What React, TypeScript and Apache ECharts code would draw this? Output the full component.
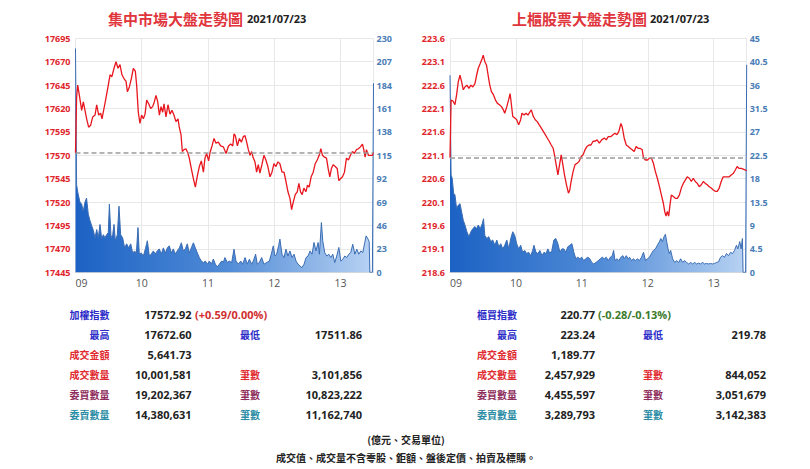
import React, { useEffect, useRef } from "react";
import * as echarts from "echarts";

// ---------- axis / tick data ----------
const HOUR_LABELS = ["09", "10", "11", "12", "13"];
const TWSE_PRICE_MIN = 17445;
const TWSE_PRICE_STEP = 25;
const TWSE_VOL_MAX = 230;
const TPEX_PRICE_MIN = 218.6;
const TPEX_PRICE_STEP = 0.5;
const TWSE_PREV_CLOSE = 17572.33;
const TPEX_PREV_CLOSE = 221.05;

// ---------- TWSE (集中市場) price: minutes since 09:00, index ----------
const TWSE_PRICE_T = [0, 1, 2, 3.5, 5.6, 7.1, 8.6, 10.1, 11.9, 13.7, 15.6, 17.7, 19.2, 21, 22.8, 24, 25.8, 27.6, 29.7, 31.3, 33, 34.9, 36.7, 38.5, 40.3, 42.1, 43.9, 45.8, 47, 48.8, 50.6, 52.4, 54.2, 55.4, 56.9, 58.4, 59.9, 61.5, 63, 64.5, 66.3, 68.1, 69.9, 71.4, 72.9, 74.5, 76, 77.5, 79, 80.2, 82, 83.8, 85.6, 87.4, 89.2, 91, 92.9, 94, 95.6, 96.8, 98.3, 100.1, 101.9, 103.1, 104.9, 106.8, 108.6, 110.4, 112.2, 114, 115.9, 117.3, 118.8, 120.6, 121.9, 123.7, 125.5, 127.3, 129.4, 131.5, 134, 136.4, 138.6, 140.6, 142.5, 143.6, 144.8, 146.7, 148.5, 150.3, 152.1, 153.6, 155.1, 156.6, 158.1, 159.6, 161.1, 162.6, 164.1, 165.6, 167.1, 168.9, 170.7, 172.5, 174.3, 176.2, 178, 179.8, 181.6, 183.4, 185.2, 187.1, 188.9, 190.7, 192.5, 194.3, 195.8, 197.3, 199.1, 200.9, 202.4, 203.9, 205.4, 206.9, 208.7, 210.2, 211.7, 213.5, 215.4, 217.2, 219, 220.8, 222.3, 223.8, 225.6, 227.4, 228.9, 230.4, 231.9, 233.4, 235.3, 237.1, 238.6, 240.1, 241.9, 243.7, 245.5, 247.3, 249.1, 250.9, 252.7, 254.5, 256.3, 258.1, 260, 261.2, 262.4, 263.6, 265.4, 267.2, 269, 270];
const TWSE_PRICE_V = [17572.33, 17632, 17645, 17634, 17618, 17627, 17618, 17609, 17600, 17602, 17611, 17613, 17624, 17613, 17615, 17609, 17620, 17631, 17645, 17656, 17654, 17663, 17670, 17663, 17667, 17656, 17652, 17649, 17638, 17643, 17652, 17663, 17660, 17645, 17616, 17604, 17613, 17609, 17614, 17629, 17625, 17620, 17622, 17627, 17634, 17627, 17613, 17622, 17616, 17625, 17611, 17624, 17614, 17618, 17613, 17606, 17609, 17600, 17592, 17574, 17576, 17577, 17572, 17567, 17556, 17545, 17536, 17548, 17558, 17564, 17552, 17567, 17572, 17564, 17573, 17580, 17588, 17583, 17584, 17580, 17579, 17572, 17580, 17582, 17580, 17593, 17591, 17580, 17588, 17584, 17590, 17591, 17584, 17576, 17570, 17574, 17567, 17563, 17552, 17560, 17551, 17560, 17570, 17565, 17558, 17547, 17552, 17561, 17558, 17563, 17561, 17552, 17552, 17542, 17531, 17524, 17512, 17520, 17528, 17531, 17540, 17531, 17528, 17535, 17531, 17538, 17536, 17547, 17552, 17561, 17565, 17570, 17577, 17570, 17568, 17567, 17556, 17547, 17556, 17560, 17558, 17556, 17543, 17545, 17547, 17552, 17567, 17565, 17570, 17574, 17572, 17576, 17577, 17579, 17582, 17576, 17568, 17576, 17570, 17570, 17570, 17572.92];

// ---------- TWSE volume per minute (億元) ----------
const TWSE_VOL_T = [0, 1, 2, 4, 5.6, 7, 8.6, 10, 11.6, 13.1, 14.6, 16.2, 17.7, 19.2, 20.7, 22.2, 23.7, 25.2, 26.7, 28.2, 29.7, 30.7, 32.2, 33.7, 34.9, 36.1, 37.9, 39.4, 40.9, 42.7, 44.5, 46.3, 48.2, 50, 51.8, 53.6, 55.1, 56.6, 57.8, 59.6, 61.5, 63.3, 65.1, 66.9, 68.7, 70.5, 72.3, 74.1, 75.9, 77.8, 79.6, 81.4, 83.2, 85, 86.8, 88.6, 90.4, 92.2, 94.1, 95.9, 97.7, 99.5, 101.3, 103.1, 104.9, 106.8, 108.6, 110.4, 112.2, 114, 115.9, 117.7, 119.5, 121.3, 123.1, 124.9, 126.7, 128.5, 130.3, 132.4, 134, 135.4, 137.6, 139.4, 141.5, 143.6, 145.4, 147.5, 149.7, 151.5, 153.6, 155.7, 157.5, 159.6, 161.1, 163.2, 164.7, 166.5, 168.7, 170.7, 173.2, 175.6, 177.4, 179.2, 180.7, 182.2, 184, 185.2, 187.1, 188.9, 190.7, 192.5, 194.3, 196.2, 198, 199.8, 201.6, 203.4, 205.2, 207.1, 208.9, 210.7, 212.5, 214.3, 216.1, 217.9, 219.8, 221, 222.8, 224, 225.8, 227.7, 229.5, 231.3, 233.1, 234.9, 236.7, 238.6, 240.4, 242.2, 244, 245.8, 247.6, 249.4, 251.2, 253.1, 254.9, 256.7, 258.5, 260.3, 262.1, 263.3, 265.1, 266.1, 266.7, 269, 270];
const TWSE_VOL_V = [220, 86, 79, 69, 67, 60, 69, 73, 57, 51, 46, 41, 34, 42, 34, 47, 33, 37, 34, 37, 39, 67, 34, 37, 47, 31, 37, 65, 37, 34, 24, 28, 24, 28, 19, 21, 18, 44, 18, 19, 16, 23, 31, 16, 18, 21, 18, 21, 23, 18, 24, 19, 24, 26, 19, 23, 18, 21, 24, 29, 21, 23, 28, 19, 24, 29, 24, 19, 14.5, 11, 9.6, 11, 8, 11, 8, 13, 8, 5.3, 8, 11, 10, 14.5, 9.6, 11, 9.6, 22.7, 11, 8, 11, 8, 14.5, 8, 12.8, 8, 11, 17.8, 8, 9.6, 14.5, 8, 9.6, 11, 17.8, 26, 16, 17.8, 26, 32.6, 17.8, 14.5, 22.7, 16, 21, 14.5, 17.8, 11, 8, 6.2, 4.6, 8, 14.5, 16, 21, 17.8, 29.3, 21, 29.3, 17.8, 48.9, 31, 19.4, 16, 17.8, 14.5, 17.8, 9.6, 16, 24.4, 11, 12.8, 16, 14.5, 17.8, 19.4, 27.6, 17.8, 22.7, 17.8, 21, 19.4, 29.3, 35.8, 32.6, 30, 0, 0, 185.8];

// ---------- TPEx (上櫃) price ----------
const TPEX_PRICE_T = [0, 1, 2.7, 4.5, 6, 7.5, 9.1, 10.6, 12.1, 13.6, 15.4, 17.2, 19, 20.8, 22.7, 24.2, 25.7, 27.5, 29.3, 30.2, 31.7, 33.2, 34.7, 36.2, 37.7, 39.6, 41.4, 43.2, 45, 46.8, 48.6, 49.8, 51.7, 53.5, 54.7, 55.9, 57.1, 58.9, 60.7, 62.5, 64.3, 65.5, 67.4, 69.2, 71, 72.8, 74, 75.8, 77.6, 79.4, 81.2, 83.1, 84.9, 86.7, 88.5, 90.3, 92.1, 93.9, 95.1, 96.6, 98.2, 99.4, 101.2, 102.7, 104.2, 106, 107.8, 109, 110.2, 112, 113.8, 115.7, 117.5, 119.3, 121.1, 122.9, 124.7, 126.5, 128.3, 130.2, 132, 133.8, 135.9, 138, 140.4, 142.2, 144, 146.5, 148.3, 150.1, 151.9, 153.7, 155.5, 156.7, 158.5, 160.4, 162.2, 164, 165.8, 167.6, 169.4, 171.2, 173, 174.9, 176.1, 177.9, 179.7, 181.5, 183.3, 185.1, 186.9, 188.7, 190.6, 192.4, 194.2, 195.4, 196.6, 197.8, 199, 200.2, 201.4, 203.3, 205.1, 206.9, 208.7, 210.5, 212.3, 214.1, 215.9, 217.8, 219.6, 221.4, 223.2, 225, 226.8, 228.7, 230.5, 232.3, 234.1, 235.9, 237.7, 239.6, 241.4, 243.2, 245, 246.8, 248.6, 250.4, 252.3, 254.1, 255.9, 257.7, 259.5, 261.3, 263.1, 265, 267.4, 270];
const TPEX_PRICE_V = [221.05, 222.28, 222.26, 222.18, 222.39, 222.67, 222.81, 222.67, 222.5, 222.56, 222.6, 222.53, 222.6, 222.56, 222.63, 222.81, 222.96, 223.06, 223.17, 223.24, 223.1, 223.03, 222.81, 222.6, 222.46, 222.39, 222.28, 222.21, 222.18, 222.14, 222.07, 222.0, 222.14, 222.3, 222.42, 222.18, 221.93, 221.9, 221.86, 221.75, 221.86, 222.0, 221.96, 222.0, 221.96, 222.03, 222.07, 221.93, 221.86, 221.82, 221.75, 221.68, 221.61, 221.54, 221.47, 221.4, 221.32, 221.25, 221.11, 220.9, 220.68, 220.86, 221.11, 220.9, 220.68, 220.47, 220.29, 220.36, 220.54, 220.75, 220.9, 220.93, 220.97, 221.07, 221.11, 221.22, 221.29, 221.32, 221.32, 221.4, 221.4, 221.43, 221.36, 221.43, 221.47, 221.43, 221.5, 221.5, 221.54, 221.57, 221.54, 221.61, 221.78, 221.71, 221.47, 221.32, 221.29, 221.25, 221.22, 221.18, 221.29, 221.25, 221.25, 221.22, 221.04, 221.0, 221.0, 221.04, 221.04, 220.93, 220.75, 220.61, 220.43, 220.25, 220.07, 219.9, 219.8, 219.9, 219.8, 220.04, 220.25, 220.22, 220.18, 220.18, 220.25, 220.4, 220.5, 220.57, 220.64, 220.61, 220.54, 220.61, 220.54, 220.5, 220.43, 220.47, 220.54, 220.5, 220.47, 220.43, 220.4, 220.36, 220.33, 220.33, 220.4, 220.54, 220.64, 220.64, 220.64, 220.64, 220.68, 220.71, 220.78, 220.86, 220.82, 220.82, 220.8, 220.77];

// ---------- TPEx volume per minute (億元) ----------
const TPEX_VOL_T = [0, 1, 2, 3.3, 4.5, 6, 7.5, 9.1, 10.6, 12.1, 13.6, 15.4, 17.2, 19, 20.8, 22.7, 24.2, 25.7, 27.5, 29.3, 30.5, 31.7, 33.5, 35.3, 37.1, 38.9, 40.8, 42.6, 44.4, 46.2, 48, 49.8, 51.7, 53.5, 55.3, 57.1, 58.9, 60.7, 62.5, 64.3, 66.1, 68, 69.8, 71.6, 73.4, 75.2, 76.4, 78.2, 80, 81.8, 83.7, 85.5, 87.3, 89.1, 90.9, 92.7, 94.5, 96.3, 98.2, 100, 101.8, 103.6, 105.4, 107.2, 109, 110.9, 112.7, 114.5, 116.3, 118.1, 119.9, 121.7, 123.5, 125.4, 127.2, 129, 130.8, 132.9, 135, 136.8, 138.6, 140.4, 142.2, 144, 145.9, 147.7, 148.9, 150.1, 151.9, 153.7, 155.5, 157.4, 158.5, 160.4, 162.2, 163.4, 165.2, 167, 168.8, 170.6, 172.4, 174.3, 176.1, 177.9, 179.7, 181.5, 183.3, 185.1, 186.9, 188.7, 190.6, 191.8, 193.3, 194.8, 196, 197.2, 198.4, 199.6, 200.8, 202.6, 204.5, 206.3, 208.1, 209.9, 211.7, 213.5, 215.3, 217.2, 219, 220.8, 222.6, 224.4, 226.2, 228, 229.9, 231.7, 233.5, 235.3, 237.1, 238.9, 240.8, 242.6, 244.4, 246.2, 248, 249.8, 251.6, 253.5, 255.3, 257.1, 258.9, 260.7, 261.9, 263.7, 264.9, 266.1, 266.7, 269, 270];
const TPEX_VOL_V = [37.9, 18.7, 18.1, 15.2, 14.9, 12.3, 12.9, 13.2, 11.6, 10, 9.1, 7.8, 6.85, 7.8, 8.4, 8.8, 8.4, 9.1, 8.4, 9.3, 10.3, 7.1, 6.5, 6.85, 5.9, 6.2, 5.2, 6.2, 4.9, 5.5, 4.5, 5.2, 6.2, 4.5, 6.5, 7.8, 7.1, 5.5, 4.5, 5.2, 3.85, 4.2, 3.6, 3.85, 3.2, 4.2, 5.2, 3.85, 3.6, 4.2, 3.2, 3.85, 3.6, 4.5, 3.6, 4.2, 6.2, 6.5, 5.5, 3.85, 4.5, 4.5, 3.85, 4.9, 5.2, 5.5, 3.85, 2.6, 2.9, 2.6, 2.9, 2.25, 2.6, 2.9, 2.6, 1.9, 1.6, 1.9, 2.25, 2.6, 2.9, 2.6, 2.9, 2.25, 2.9, 3.2, 4.2, 2.25, 2.6, 2.25, 2.9, 3.2, 2.6, 3.2, 2.6, 2.9, 2.25, 2.6, 2.25, 2.6, 2.25, 2.9, 3.85, 2.25, 2.6, 2.9, 3.6, 4.2, 4.5, 5.2, 5.9, 6.5, 5.9, 6.85, 7.3, 5.9, 4.5, 3.6, 4.2, 2.6, 1.9, 2.25, 1.9, 2.6, 1.9, 2.25, 1.9, 1.6, 1.9, 1.6, 1.9, 1.6, 1.75, 1.6, 1.9, 1.6, 1.7, 1.6, 1.7, 1.6, 1.7, 1.9, 2.0, 2.9, 3.2, 2.9, 3.6, 3.2, 3.85, 3.6, 4.2, 5.2, 4.5, 5.9, 4.5, 6.5, 0, 0, 39.9];

// ---------- statistics tables ----------
const TWSE_LABELS = ["加權指數", "最高", "成交金額", "成交數量", "委買數量", "委賣數量"];
const TPEX_LABELS = ["櫃買指數", "最高", "成交金額", "成交數量", "委買數量", "委賣數量"];
const RIGHT_LABELS = ["", "最低", "", "筆數", "筆數", "筆數"];
const TWSE_VALUES = ["17572.92", "17672.60", "5,641.73", "10,001,581", "19,202,367", "14,380,631"];
const TWSE_VALUES2 = ["", "17511.86", "", "3,101,856", "10,823,222", "11,162,740"];
const TPEX_VALUES = ["220.77", "223.24", "1,189.77", "2,457,929", "4,455,597", "3,289,793"];
const TPEX_VALUES2 = ["", "219.78", "", "844,052", "3,051,679", "3,142,383"];
const TWSE_CHANGE = "(+0.59/0.00%)";
const TPEX_CHANGE = "(-0.28/-0.13%)";
const LABEL_COLORS = ["#2b2bc8", "#2b2bc8", "#e02a2f", "#e02a2f", "#8e2d5c", "#2a8ca4"];
const FOOTER = ["(億元、交易單位)", "成交值、成交量不含零股、鉅額、盤後定價、拍賣及標購。"];

const FONT = "'Open Sans','Noto Sans CJK TC',sans-serif";
const CJK = "'Noto Sans CJK TC','Open Sans',sans-serif";

function zip(t: number[], v: number[]) {
  return t.map((x, i) => [x, v[i]]);
}

function buildTable(
  labels: string[],
  values: string[],
  values2: string[],
  change: string,
  changeColor: string,
  col: { labelRight: number; valRight: number; changeLeft: number; col3Left: number; col4Right: number }
) {
  const rowsY = [314, 334, 354, 374, 394, 414];
  const els: any[] = [];
  const txt = (text: string, x: number, y: number, align: string, fill: string, font: string) => ({
    type: "text",
    silent: true,
    style: { text, x, y, align, textAlign: align, verticalAlign: "middle", textVerticalAlign: "middle", fill, font },
  });
  labels.forEach((lab, i) => {
    const y = rowsY[i];
    els.push(txt(lab, col.labelRight, y, "right", LABEL_COLORS[i], `bold 10px ${CJK}`));
    els.push(txt(values[i], col.valRight, y, "right", "#222", `bold 11px ${FONT}`));
    if (RIGHT_LABELS[i]) els.push(txt(RIGHT_LABELS[i], col.col3Left, y, "left", LABEL_COLORS[i], `bold 10px ${CJK}`));
    if (values2[i]) els.push(txt(values2[i], col.col4Right, y, "right", "#222", `bold 11px ${FONT}`));
  });
  els.push(txt(change, col.changeLeft, rowsY[0], "left", changeColor, `bold 11px ${FONT}`));
  return els;
}

export default function App() {
  const ref = useRef<HTMLDivElement>(null);

  useEffect(() => {
    if (!ref.current) return;
    const chart = echarts.init(ref.current, null, { renderer: "svg" });

    const grids = [
      { left: 75.5, right: 436.5, top: 38.3, height: 234 },
      { left: 450, right: 63.3, top: 38.3, height: 234 },
    ];

    const xAxis = [0, 1].map((i) => ({
      type: "value",
      gridIndex: i,
      min: 0,
      max: 270,
      interval: 60,
      axisLine: { show: true, lineStyle: { color: "#d9d9d9", width: 1 } },
      axisTick: { show: false },
      splitLine: { show: true, lineStyle: { color: "#e8e8e8", width: 1 } },
      axisLabel: {
        formatter: (v: number) => (v % 60 === 0 && v < 270 ? HOUR_LABELS[v / 60] : ""),
        alignMinLabel: "left",
        color: "#555",
        fontSize: 10.5,
        fontFamily: FONT,
        margin: 5,
      },
    }));

    const priceAxis = (grid: number, min: number, max: number) => ({
      type: "value",
      gridIndex: grid,
      position: "left",
      min,
      max,
      show: false,
      splitLine: { show: false },
    });
    const labelAxis = (grid: number, base: number, step: number, digits: number) => ({
      type: "value",
      gridIndex: grid,
      position: "left",
      min: 0,
      max: step * 10,
      interval: step,
      axisLine: { show: false },
      axisTick: { show: false },
      splitLine: { show: true, lineStyle: { color: "#e8e8e8", width: 1 } },
      axisLabel: {
        formatter: (v: number) => (base + v).toFixed(digits),
        color: "#e0262c",
        fontSize: 9,
        fontWeight: "bold",
        fontFamily: FONT,
        margin: 5,
      },
    });
    const volAxis = (grid: number, max: number) => ({
      type: "value",
      gridIndex: grid,
      position: "right",
      min: 0,
      max,
      interval: max / 10,
      axisLine: { show: false },
      axisTick: { show: false },
      splitLine: { show: false },
      axisLabel: {
        color: "#4a7db5",
        fontSize: 9,
        fontWeight: "bold",
        fontFamily: FONT,
        margin: 3,
      },
    });

    const yAxis = [
      priceAxis(0, TWSE_PRICE_MIN, TWSE_PRICE_MIN + TWSE_PRICE_STEP * 10),
      labelAxis(0, TWSE_PRICE_MIN, TWSE_PRICE_STEP, 0),
      volAxis(0, TWSE_VOL_MAX),
      priceAxis(1, TPEX_PRICE_MIN, TPEX_PRICE_MIN + TPEX_PRICE_STEP * 10),
      labelAxis(1, TPEX_PRICE_MIN, TPEX_PRICE_STEP, 1),
      volAxis(1, 45),
    ];

    const areaGrad = () =>
      new echarts.graphic.LinearGradient(0, 0, 1, 0, [
        { offset: 0, color: "#1c62c4" },
        { offset: 0.5, color: "#4f8ad6" },
        { offset: 1, color: "#b9d3f3" },
      ]);

    const volSeries = (xi: number, yi: number, data: number[][]) => ({
      type: "line",
      xAxisIndex: xi,
      yAxisIndex: yi,
      data,
      showSymbol: false,
      symbol: "none",
      lineStyle: { color: "#3a6cb3", width: 1 },
      areaStyle: { color: areaGrad(), opacity: 1 },
      z: 1,
    });
    const priceSeries = (xi: number, yi: number, data: number[][], prev: number) => ({
      type: "line",
      xAxisIndex: xi,
      yAxisIndex: yi,
      data,
      showSymbol: false,
      symbol: "none",
      lineStyle: { color: "#e8161e", width: 1.3 },
      z: 3,
      markLine: {
        silent: true,
        symbol: "none",
        label: { show: false },
        lineStyle: { color: "#9b9b9b", type: [5, 3], width: 1.5 },
        data: [{ yAxis: prev }],
      },
    });

    const titleText = (text: string, x: number, fill: string, font: string) => ({
      type: "text",
      silent: true,
      style: { text, x, y: 18, fill, font, align: "left", textAlign: "left", verticalAlign: "middle", textVerticalAlign: "middle" },
    });

    const graphics: any[] = [
      titleText("集中市場大盤走勢圖", 108, "#e0353d", `bold 15px ${CJK}`),
      titleText("2021/07/23", 247, "#222", `bold 11px ${FONT}`),
      titleText("上櫃股票大盤走勢圖", 512, "#e0353d", `bold 15px ${CJK}`),
      titleText("2021/07/23", 650, "#222", `bold 11px ${FONT}`),
      ...buildTable(TWSE_LABELS, TWSE_VALUES, TWSE_VALUES2, TWSE_CHANGE, "#d12f2f", {
        labelRight: 109.5, valRight: 191.5, changeLeft: 195, col3Left: 240, col4Right: 362,
      }),
      ...buildTable(TPEX_LABELS, TPEX_VALUES, TPEX_VALUES2, TPEX_CHANGE, "#3c7a2c", {
        labelRight: 517, valRight: 595, changeLeft: 598, col3Left: 643, col4Right: 766,
      }),
      ...FOOTER.map((t, i) => ({
        type: "text",
        silent: true,
        style: {
          text: t, x: 406, y: i === 0 ? 439 : 457, fill: "#222", font: `bold 10px ${CJK}`,
          align: "center", textAlign: "center", verticalAlign: "middle", textVerticalAlign: "middle",
        },
      })),
    ];

    chart.setOption({
      animation: false,
      backgroundColor: "#ffffff",
      grid: grids,
      xAxis,
      yAxis,
      series: [
        volSeries(0, 2, zip(TWSE_VOL_T, TWSE_VOL_V)),
        priceSeries(0, 0, zip(TWSE_PRICE_T, TWSE_PRICE_V), TWSE_PREV_CLOSE),
        volSeries(1, 5, zip(TPEX_VOL_T, TPEX_VOL_V)),
        priceSeries(1, 3, zip(TPEX_PRICE_T, TPEX_PRICE_V), TPEX_PREV_CLOSE),
      ],
      graphic: graphics,
    });

    return () => chart.dispose();
  }, []);

  return (
    <div
      ref={ref}
      style={{ position: "absolute", left: 0, top: 0, width: 810, height: 469, background: "#fff" }}
    />
  );
}
